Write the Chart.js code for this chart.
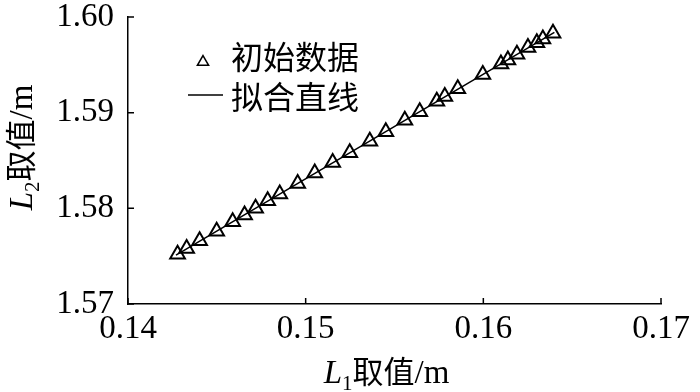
<!DOCTYPE html>
<html><head><meta charset="utf-8">
<script src="https://cdn.jsdelivr.net/npm/chart.js@4.4.0/dist/chart.umd.min.js"></script>
<style>html,body{margin:0;padding:0;background:#fff}#wrap{width:700px;height:392px}</style>
</head><body><div id="wrap"><canvas id="c" width="700" height="392"></canvas></div>
<script>
// ---- data ----
const L1Values = [0.14279,0.14330,0.14403,0.14499,0.14589,0.14656,0.14718,0.14786,0.14854,0.14955,
  0.15051,0.15152,0.15248,0.15361,0.15451,0.15558,0.15642,0.15738,0.15783,0.15856,
  0.15997,0.16099,0.16138,0.16189,0.16251,0.16301,0.16335,0.16392];
const L2Values = [1.5752,1.5758,1.5766,1.5776,1.5786,1.5793,1.5800,1.5808,1.5815,1.5826,
  1.5837,1.5848,1.5858,1.5870,1.5880,1.5892,1.5901,1.5912,1.5917,1.5925,
  1.5940,1.5951,1.5955,1.5961,1.5968,1.5973,1.5977,1.5983];
const fitL1 = [0.1427, 0.1640];
const fitL2 = [1.5751, 1.5984];
const xTicks = [0.14, 0.15, 0.16, 0.17];
const yTicks = [1.57, 1.58, 1.59, 1.60];
const seriesNames = ['初始数据', '拟合直线'];
const xTitleParts = ['L', '1', '取值/m'];
const yTitleParts = ['L', '2', '取值/m'];

const SERIF = '"Liberation Serif", "Times New Roman", serif';
const CJK = '"Noto Sans CJK SC", sans-serif';

function drawMixed(ctx, parts, cx, cy, size) {
  const segs = [
    {t: parts[0], f: 'italic ' + size + 'px ' + SERIF, dy: 0},
    {t: parts[1], f: Math.round(size*0.65) + 'px ' + SERIF, dy: size*0.22},
    {t: parts[2].replace('/m',''), f: (size-2) + 'px ' + CJK, dy: 0},
    {t: '/m', f: size + 'px ' + SERIF, dy: 0}
  ];
  let w = 0;
  segs.forEach(s => { ctx.font = s.f; s.w = ctx.measureText(s.t).width; w += s.w; });
  let x = cx - w/2;
  ctx.textBaseline = 'alphabetic';
  ctx.textAlign = 'left';
  ctx.fillStyle = '#000';
  const base = cy + size*0.33;
  segs.forEach(s => { ctx.font = s.f; ctx.fillText(s.t, x, base + s.dy); x += s.w; });
}

const decor = {
  id: 'decor',
  afterDraw(chart) {
    const ctx = chart.ctx, xs = chart.scales.x, ys = chart.scales.y, ca = chart.chartArea;
    ctx.save();
    ctx.strokeStyle = '#000'; ctx.lineWidth = 1.5;
    ctx.beginPath();
    xTicks.forEach(v => { const p = xs.getPixelForValue(v); ctx.moveTo(p, ca.bottom); ctx.lineTo(p, ca.bottom - 6); });
    yTicks.forEach(v => { const p = ys.getPixelForValue(v); ctx.moveTo(ca.left, p); ctx.lineTo(ca.left + 6, p); });
    ctx.stroke();
    // axis titles
    drawMixed(ctx, xTitleParts, (ca.left + ca.right)/2 - 8, 372, 33);
    ctx.save();
    ctx.translate(21, (ca.top + ca.bottom)/2 - 13);
    ctx.rotate(-Math.PI/2);
    drawMixed(ctx, yTitleParts, 0, 0, 33);
    ctx.restore();
    // legend
    ctx.fillStyle = '#fff'; ctx.strokeStyle = '#000';
    Chart.helpers.drawPoint(ctx, {pointStyle: 'triangle', radius: 6.5, borderWidth: 2, rotation: 0}, 203, 62);
    ctx.beginPath(); ctx.lineWidth = 1.5; ctx.moveTo(188, 95); ctx.lineTo(223, 95); ctx.stroke();
    ctx.fillStyle = '#000';
    ctx.font = '32px ' + CJK; ctx.textAlign = 'left'; ctx.textBaseline = 'middle';
    ctx.fillText(seriesNames[0], 231, 57);
    ctx.fillText(seriesNames[1], 231, 97);
    ctx.restore();
  }
};

new Chart(document.getElementById('c'), {
  type: 'scatter',
  data: {
    datasets: [
      {
        label: seriesNames[0],
        data: L1Values.map((x, i) => ({x, y: L2Values[i]})),
        pointStyle: 'triangle', pointRadius: 8.5, pointBorderWidth: 2,
        pointBorderColor: '#000', pointBackgroundColor: 'rgba(255,255,255,0)',
        showLine: false, order: 2
      },
      {
        label: seriesNames[1],
        data: fitL1.map((x, i) => ({x, y: fitL2[i]})),
        type: 'line', showLine: true, borderColor: '#000', borderWidth: 1.5,
        pointRadius: 0, fill: false, order: 1
      }
    ]
  },
  options: {
    responsive: false, animation: false, devicePixelRatio: 1,
    layout: {padding: {top: 17, right: 39, left: 0, bottom: 0}},
    plugins: {legend: {display: false}, tooltip: {enabled: false}},
    scales: {
      x: {
        type: 'linear', min: 0.14, max: 0.17,
        afterBuildTicks: s => { s.ticks = xTicks.map(v => ({value: v})); },
        afterFit: s => { s.height = 88; s.paddingLeft = 0; s.paddingRight = 0; },
        ticks: {callback: v => v.toFixed(2), color: '#000', padding: 6, font: {family: SERIF, size: 33}, maxRotation: 0, autoSkip: false},
        grid: {display: false, drawTicks: false},
        border: {display: true, color: '#000', width: 1.5}
      },
      y: {
        type: 'linear', min: 1.57, max: 1.60,
        afterBuildTicks: s => { s.ticks = yTicks.map(v => ({value: v})); },
        afterFit: s => { s.width = 128; s.paddingTop = 0; s.paddingBottom = 0; },
        ticks: {callback: v => v.toFixed(2), color: '#000', padding: 14, font: {family: SERIF, size: 33}, autoSkip: false},
        grid: {display: false, drawTicks: false},
        border: {display: true, color: '#000', width: 1.5}
      }
    }
  },
  plugins: [decor]
});
</script></body></html>
